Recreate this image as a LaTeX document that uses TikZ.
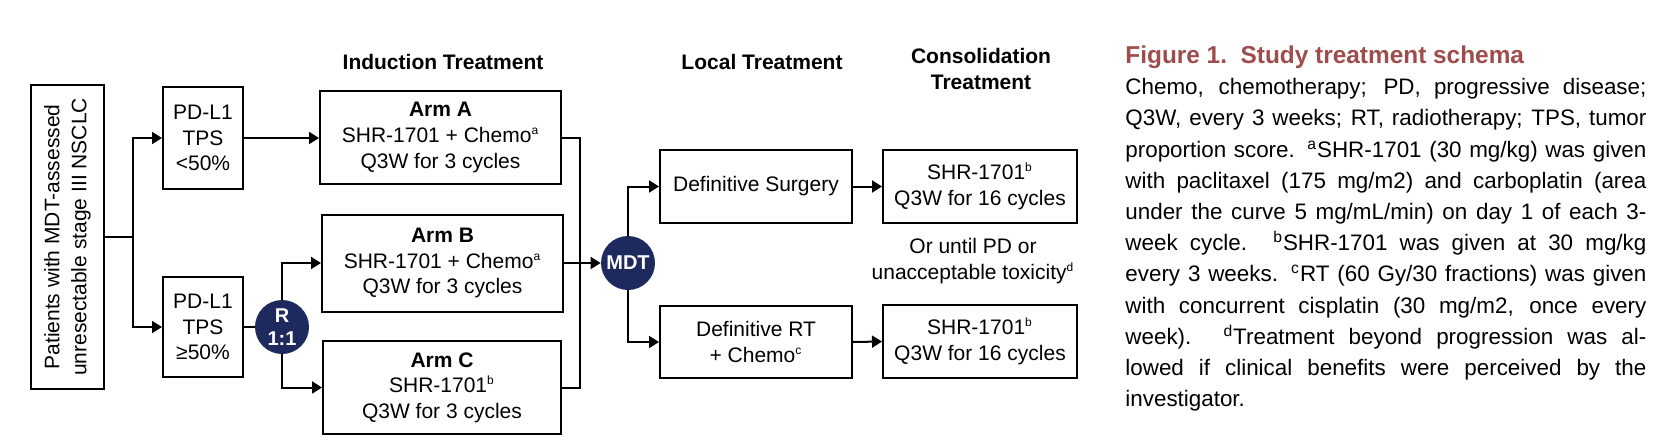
\documentclass[tikz,border=0pt]{standalone}
\usepackage{fontspec}
\setmainfont{Liberation Sans}
\usetikzlibrary{arrows.meta}
\definecolor{navy}{RGB}{30,42,94}
\definecolor{capred}{RGB}{158,76,76}
\newcommand{\jline}[1]{\makebox[260.5pt][s]{#1}}
\newcommand{\fnmark}[1]{\textsuperscript{\fontsize{6}{6}\selectfont #1}}

\begin{document}
\begin{tikzpicture}[x=0.5pt,y=-0.5pt,
  box/.style={draw,line width=1pt,align=center,inner sep=0pt,font=\fontsize{10.5}{12.8}\selectfont},
  disc/.style={circle,fill=navy,text=white,inner sep=0pt,minimum size=27pt,align=center,font=\fontsize{10}{11.5}\selectfont\bfseries},
  head/.style={align=center,font=\fontsize{10.5}{13}\selectfont\bfseries},
  arr/.style={line width=1pt,-{Triangle[length=5pt,width=6pt]}},
  link/.style={line width=1pt}]
\useasboundingbox (0,0) rectangle (1668,444);

\node (hind) at (443,62) [head]{Induction Treatment};
\node (hloc) at (762,62) [head]{Local Treatment};
\node (hcon) at (981,69) [head]{Consolidation\\Treatment};

\node (pat) at (67.5,237) [box,rotate=90,minimum width=152pt,minimum height=36.5pt,font=\fontsize{10.5}{13.5}\selectfont]{Patients with MDT-assessed\\unresectable stage III NSCLC};
\node (lowtps) at (203,138) [box,minimum width=40pt,minimum height=51pt]{PD-L1\\TPS\\<50\%};
\node (hightps) at (203,327) [box,minimum width=40pt,minimum height=50pt]{PD-L1\\TPS\\≥50\%};
\node (rand) at (282,327) [disc]{R\\1:1};

\node (arma) at (440.5,137.5) [box,minimum width=120.5pt,minimum height=46.5pt]{\textbf{Arm A}\\SHR-1701 + Chemo\fnmark{a}\\Q3W for 3 cycles};
\node (armb) at (442.5,263) [box,minimum width=120.5pt,minimum height=48.5pt]{\textbf{Arm B}\\SHR-1701 + Chemo\fnmark{a}\\Q3W for 3 cycles};
\node (armc) at (442,387.5) [box,minimum width=119pt,minimum height=46.5pt]{\textbf{Arm C}\\SHR-1701\fnmark{b}\\Q3W for 3 cycles};

\node (mdt) at (628,263) [disc]{MDT};
\node (surg) at (756,186.5) [box,minimum width=96pt,minimum height=36.5pt]{Definitive Surgery};
\node (rt) at (756,342) [box,minimum width=96pt,minimum height=36pt]{Definitive RT\\+ Chemo\fnmark{c}};

\node (consa) at (980,186.5) [box,minimum width=97pt,minimum height=36.5pt]{SHR-1701\fnmark{b}\\Q3W for 16 cycles};
\node (consb) at (980,341.5) [box,minimum width=97pt,minimum height=36.5pt]{SHR-1701\fnmark{b}\\Q3W for 16 cycles};
\node (until) at (973,261) [align=center,font=\fontsize{10.5}{13}\selectfont]{Or until PD or\\unacceptable toxicity\fnmark{d}};

\coordinate (split) at (133,237);
\coordinate (merge) at (580,263);
\draw [link](pat.south)--(split);
\draw [arr](split)|-(lowtps.west);
\draw [arr](split)|-(hightps.west);
\draw [arr](lowtps.east)--(lowtps.east-|arma.west);
\draw [link](hightps.east)--(rand.west);
\draw [arr](rand.north)|-(armb.west);
\draw [arr](rand.south)|-(armc.west);
\draw [link](arma.east)-|(merge)|-(armc.east);
\draw [arr](armb.east)--(mdt.west);
\draw [arr](mdt.north)|-(surg.west);
\draw [arr](mdt.south)|-(rt.west);
\draw [arr](surg.east)--(consa.west);
\draw [arr](rt.east)--(consb.west);

\node (captitle) at (1125,57) [anchor=west,inner sep=0pt,text=capred,font=\fontsize{12.2}{14}\selectfont\bfseries]{Figure 1.\ \ Study treatment schema};
\node (capbody) at (1125,78) [anchor=north west,align=left,inner sep=0pt,font=\fontsize{11.2}{15.6}\selectfont]{%
\jline{Chemo, chemotherapy; PD, progressive disease;}\\
\jline{Q3W, every 3 weeks; RT, radiotherapy; TPS, tumor}\\
\jline{proportion score. \textsuperscript{a}SHR-1701 (30 mg/kg) was given}\\
\jline{with paclitaxel (175 mg/m2) and carboplatin (area}\\
\jline{under the curve 5 mg/mL/min) on day 1 of each 3-}\\
\jline{week cycle. \textsuperscript{b}SHR-1701 was given at 30 mg/kg}\\
\jline{every 3 weeks. \textsuperscript{c}RT (60 Gy/30 fractions) was given}\\
\jline{with concurrent cisplatin (30 mg/m2, once every}\\
\jline{week). \textsuperscript{d}Treatment beyond progression was al-}\\
\jline{lowed if clinical benefits were perceived by the}\\
investigator.};
\end{tikzpicture}
\end{document}
